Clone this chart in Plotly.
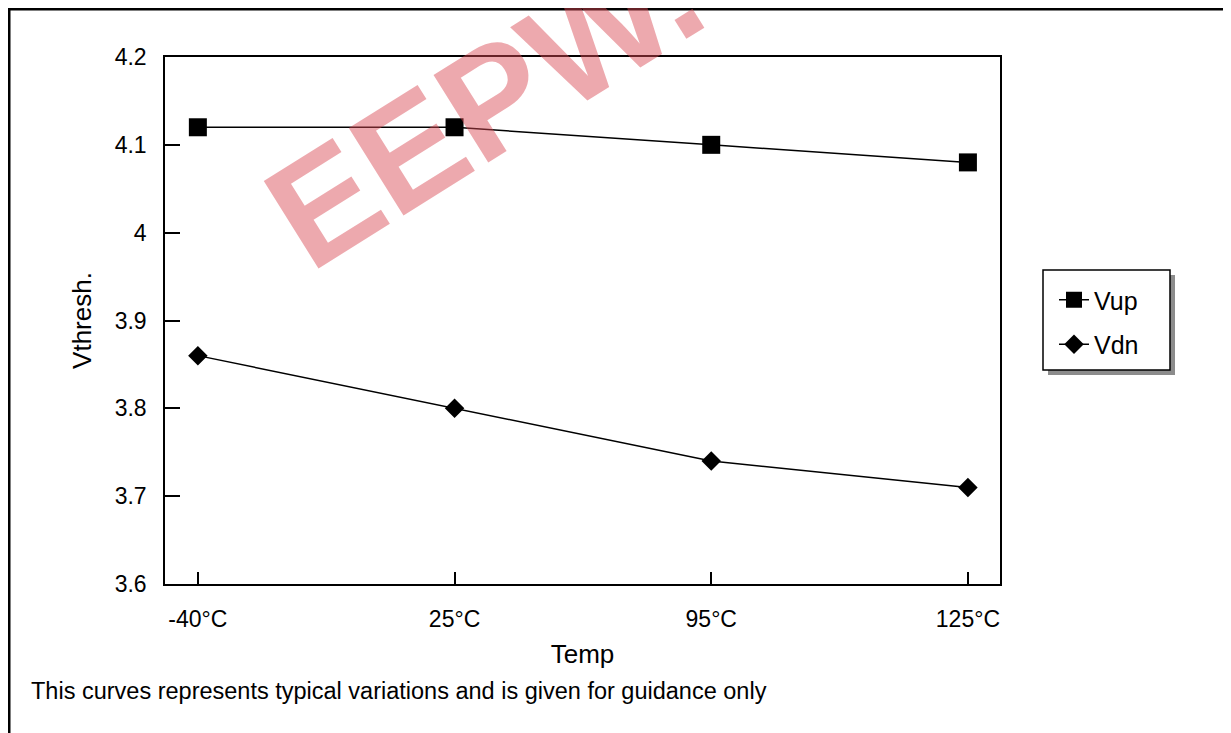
import plotly.graph_objects as go

# data
temps = ["-40°C", "25°C", "95°C", "125°C"]
vup = [4.12, 4.12, 4.10, 4.08]
vdn = [3.86, 3.80, 3.74, 3.71]
y_ticks = [3.6, 3.7, 3.8, 3.9, 4.0, 4.1, 4.2]
y_ticktext = ["3.6", "3.7", "3.8", "3.9", "4", "4.1", "4.2"]

# page has an 8px body margin, so the figure is shifted by 8px
OFF = 8
W, H = 1231 - OFF, 733 - OFF
L, R, T, B = 165, 1000, 57, 584   # plot area in page pixels


def px(x):
    return (x - L) / (R - L)


def py(y):
    return (B - y) / (B - T)


font = "Liberation Sans, Arial, sans-serif"
xpos = list(range(len(temps)))

fig = go.Figure()
fig.add_scatter(x=xpos, y=vup, mode="lines+markers", name="Vup", legendgroup="up",
                line=dict(color="black", width=1.5),
                marker=dict(symbol="square", size=18, color="black"))
fig.add_scatter(x=xpos, y=vdn, mode="lines+markers", name="Vdn", legendgroup="dn",
                line=dict(color="black", width=1.5),
                marker=dict(symbol="diamond", size=15, color="black"))

shapes = [
    # outer frame (top and left)
    dict(type="line", xref="paper", yref="paper", x0=px(7), x1=px(1240), y0=py(9), y1=py(9),
         line=dict(color="black", width=3)),
    dict(type="line", xref="paper", yref="paper", x0=px(9), x1=px(9), y0=py(8), y1=py(740),
         line=dict(color="black", width=3)),
    # legend shadow + box
    dict(type="rect", xref="paper", yref="paper", x0=px(1048), x1=px(1175), y0=py(375), y1=py(275),
         fillcolor="#8c8c8c", line=dict(width=0), layer="below"),
    dict(type="rect", xref="paper", yref="paper", x0=px(1043), x1=px(1170), y0=py(370), y1=py(270),
         fillcolor="white", line=dict(color="black", width=1.5), layer="below"),
]

annotations = [
    # watermark (cut off at the top, as in the source image)
    dict(text="EEPW.com", xref="paper", yref="paper", x=px(615), y=py(22),
         xanchor="center", yanchor="middle",
         showarrow=False, textangle=-32,
         font=dict(family=font, size=150, color="rgba(216,72,82,0.47)", weight="bold")),
    dict(text="This curves represents typical variations and is given for guidance only",
         xref="paper", yref="paper", x=px(29), y=py(691), xanchor="left", yanchor="middle",
         showarrow=False, font=dict(family=font, size=23.5, color="black")),
]

fig.update_layout(
    width=W, height=H,
    margin=dict(l=L - OFF, r=W - (R - OFF), t=T - OFF, b=H - (B - OFF), autoexpand=False),
    paper_bgcolor="white", plot_bgcolor="white",
    font=dict(family=font, size=23, color="black"),
    shapes=shapes, annotations=annotations,
    legend=dict(x=px(1054), y=py(277), xanchor="left", yanchor="top",
                bgcolor="rgba(0,0,0,0)", borderwidth=0,
                font=dict(size=25), itemwidth=30, tracegroupgap=9),
    xaxis=dict(range=[-0.128, 3.125], tickvals=xpos, ticktext=temps,
               ticks="inside", ticklen=12, tickwidth=1.5, tickcolor="black",
               showline=True, linecolor="black", linewidth=1.5, mirror=True,
               showgrid=False, zeroline=False, ticklabelstandoff=14,
               title=dict(text="Temp", standoff=13, font=dict(size=26))),
    yaxis=dict(range=[3.6, 4.2], tickvals=y_ticks, ticktext=y_ticktext,
               ticks="inside", ticklen=15, tickwidth=1.5, tickcolor="black",
               showline=True, linecolor="black", linewidth=1.5, mirror=True,
               showgrid=False, zeroline=False, ticklabelstandoff=12,
               title=dict(text="Vthresh.", standoff=16, font=dict(size=26))),
)

fig.write_html("out.html")
